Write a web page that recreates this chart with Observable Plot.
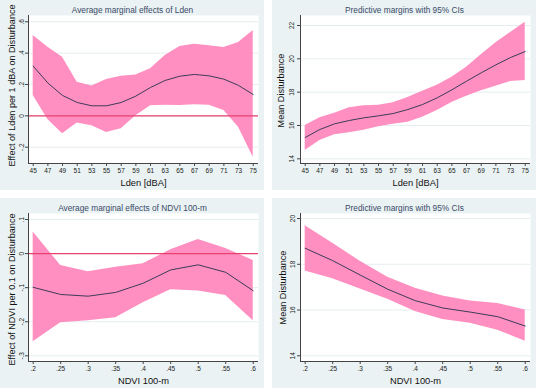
<!DOCTYPE html>
<html>
<head>
<meta charset="utf-8">
<script src="https://cdn.jsdelivr.net/npm/d3@7"></script>
<script src="https://cdn.jsdelivr.net/npm/@observablehq/plot@0.6"></script>
<style>
  html, body { margin: 0; padding: 0; background: #ffffff; }
  #grid { display: grid; grid-template-columns: 264px 264px; column-gap: 8px; row-gap: 8px; width: 536px; }
  #grid svg { display: block; overflow: visible; }
</style>
</head>
<body>
<div id="grid"></div>
<script>
// ---- Data ----
const ldenX = [45, 47, 49, 51, 53, 55, 57, 59, 61, 63, 65, 67, 69, 71, 73, 75];
const ameLden   = [0.317, 0.209, 0.130, 0.085, 0.064, 0.064, 0.085, 0.126, 0.181, 0.226, 0.253, 0.264, 0.255, 0.234, 0.194, 0.136];
const ameLdenHi = [0.513, 0.438, 0.374, 0.215, 0.191, 0.232, 0.253, 0.260, 0.300, 0.385, 0.443, 0.457, 0.447, 0.436, 0.468, 0.545];
const ameLdenLo = [0.130, -0.023, -0.115, -0.045, -0.064, -0.106, -0.083, 0.000, 0.064, 0.068, 0.066, 0.070, 0.068, 0.034, -0.072, -0.264];

const pmLden   = [15.28, 15.76, 16.10, 16.30, 16.46, 16.58, 16.72, 16.96, 17.26, 17.66, 18.14, 18.66, 19.16, 19.64, 20.08, 20.44];
const pmLdenHi = [16.00, 16.46, 16.74, 17.06, 17.18, 17.22, 17.36, 17.68, 18.06, 18.42, 18.90, 19.50, 20.24, 20.96, 21.58, 22.20];
const pmLdenLo = [14.50, 15.10, 15.44, 15.56, 15.72, 15.92, 16.08, 16.20, 16.50, 16.90, 17.38, 17.76, 18.08, 18.36, 18.64, 18.70];

const ndviX = [.2, .25, .3, .35, .4, .45, .5, .55, .6];
const ameNdvi   = [-0.099, -0.120, -0.125, -0.114, -0.087, -0.048, -0.033, -0.055, -0.109];
const ameNdviHi = [0.063, -0.035, -0.053, -0.040, -0.030, 0.011, 0.041, 0.015, -0.020];
const ameNdviLo = [-0.259, -0.203, -0.197, -0.188, -0.144, -0.106, -0.110, -0.123, -0.197];

const pmNdvi   = [18.70, 18.16, 17.53, 16.91, 16.41, 16.09, 15.91, 15.71, 15.30];
const pmNdviHi = [19.68, 18.92, 18.13, 17.43, 16.95, 16.61, 16.39, 16.29, 16.00];
const pmNdviLo = [17.71, 17.37, 16.92, 16.47, 15.94, 15.59, 15.42, 15.12, 14.64];

// ---- Tick labels ----
const ldenTicks = [45, 47, 49, 51, 53, 55, 57, 59, 61, 63, 65, 67, 69, 71, 73, 75];
const ndviTicks = [.2, .25, .3, .35, .4, .45, .5, .55, .6];
const ameLdenTicks = [-.2, 0, .2, .4, .6];
const pmLdenTicks = [14, 16, 18, 20, 22];
const ameNdviTicks = [-.3, -.2, -.1, 0, .1];
const pmNdviTicks = [14, 16, 18, 20];

const titles = ["Average marginal effects of Lden", "Predictive margins with 95% CIs",
                "Average marginal effects of NDVI 100-m", "Predictive margins with 95% CIs"];
const xLabels = ["Lden [dBA]", "Lden [dBA]", "NDVI 100-m", "NDVI 100-m"];
const yLabels = ["Effect of Lden per 1 dBA on Disturbance", "Mean Disturbance",
                 "Effect of NDVI per 0.1 on Disturbance", "Mean Disturbance"];
const zeroRef = [0];

const fmt = d => d === 0 ? "0" : String(d).replace(/^(-?)0\./, "$1.");
const FONT = "'Liberation Sans', Arial, Helvetica, sans-serif";

function panel({xs, ys, lo, hi, xDomain, yDomain, xTicks, yTicks, title, xLabel, yLabel, zeroLine, yLabelDx, yLabelDy, yTickPad}) {
  const rows = xs.map((x, i) => ({x, y: ys[i], lo: lo[i], hi: hi[i]}));
  return Plot.plot({
    width: 264, height: 190,
    marginLeft: 28, marginRight: 6, marginTop: 15, marginBottom: 27,
    x: {domain: xDomain},
    y: {domain: yDomain},
    style: {background: "#eaf2f3", fontFamily: FONT, color: "#222", overflow: "visible"},
    marks: [
      Plot.frame({fill: "white", stroke: null}),
      Plot.gridY(yTicks, {stroke: "#e0e9ec", strokeOpacity: 1, strokeWidth: 0.8}),
      Plot.areaY(rows, {x: "x", y1: "lo", y2: "hi", fill: "#ff8fc0", fillOpacity: 1}),
      zeroLine ? Plot.ruleY(zeroRef, {stroke: "#e8406f", strokeOpacity: 1, strokeWidth: 1.3}) : null,
      Plot.line(rows, {x: "x", y: "y", stroke: "#3d3b5a", strokeWidth: 1}),
      Plot.ruleX([xDomain[0]], {stroke: "#444", strokeWidth: 1}),
      Plot.ruleY([yDomain[0]], {stroke: "#444", strokeWidth: 1}),
      Plot.axisX({ticks: xTicks, tickFormat: fmt, tickSize: 3, tickPadding: 2, fontSize: 6.5, label: null, stroke: "#444"}),
      Plot.axisY({ticks: yTicks, tickFormat: fmt, tickSize: 3, tickPadding: yTickPad, tickRotate: -90, fontSize: 6.5, label: null, stroke: "#444"}),
      Plot.text([title], {frameAnchor: "top", dx: -11, dy: -3, lineAnchor: "bottom", textAnchor: "middle", fontSize: 8.3, fill: "#3a4a68"}),
      Plot.text([xLabel], {frameAnchor: "bottom", dy: 20, lineAnchor: "middle", textAnchor: "middle", fontSize: 9.3, fontWeight: "normal", fill: "#111"}),
      Plot.text([yLabel], {frameAnchor: "left", dx: yLabelDx, dy: yLabelDy, rotate: -90, lineAnchor: "middle", textAnchor: "middle", fontSize: 9.1, fontWeight: "normal", fill: "#111"})
    ]
  });
}

const grid = document.getElementById("grid");
grid.append(
  panel({xs: ldenX, ys: ameLden, lo: ameLdenLo, hi: ameLdenHi, xDomain: [44.36, 75.72], yDomain: [-0.304, 0.640],
         xTicks: ldenTicks, yTicks: ameLdenTicks, title: titles[0], xLabel: xLabels[0], yLabel: yLabels[0], zeroLine: true,
         yLabelDx: -16, yLabelDy: -4, yTickPad: 2}),
  panel({xs: ldenX, ys: pmLden, lo: pmLdenLo, hi: pmLdenHi, xDomain: [44.36, 75.72], yDomain: [13.72, 22.6],
         xTicks: ldenTicks, yTicks: pmLdenTicks, title: titles[1], xLabel: xLabels[1], yLabel: yLabels[1], zeroLine: false,
         yLabelDx: -19, yLabelDy: 1, yTickPad: 4}),
  panel({xs: ndviX, ys: ameNdvi, lo: ameNdviLo, hi: ameNdviHi, xDomain: [0.1915, 0.6096], yDomain: [-0.3167, 0.1176],
         xTicks: ndviTicks, yTicks: ameNdviTicks, title: titles[2], xLabel: xLabels[2], yLabel: yLabels[2], zeroLine: true,
         yLabelDx: -16, yLabelDy: 2, yTickPad: 2}),
  panel({xs: ndviX, ys: pmNdvi, lo: pmNdviLo, hi: pmNdviHi, xDomain: [0.1915, 0.6096], yDomain: [13.75, 20.22],
         xTicks: ndviTicks, yTicks: pmNdviTicks, title: titles[3], xLabel: xLabels[3], yLabel: yLabels[3], zeroLine: false,
         yLabelDx: -17, yLabelDy: 0, yTickPad: 3})
);
</script>
</body>
</html>
